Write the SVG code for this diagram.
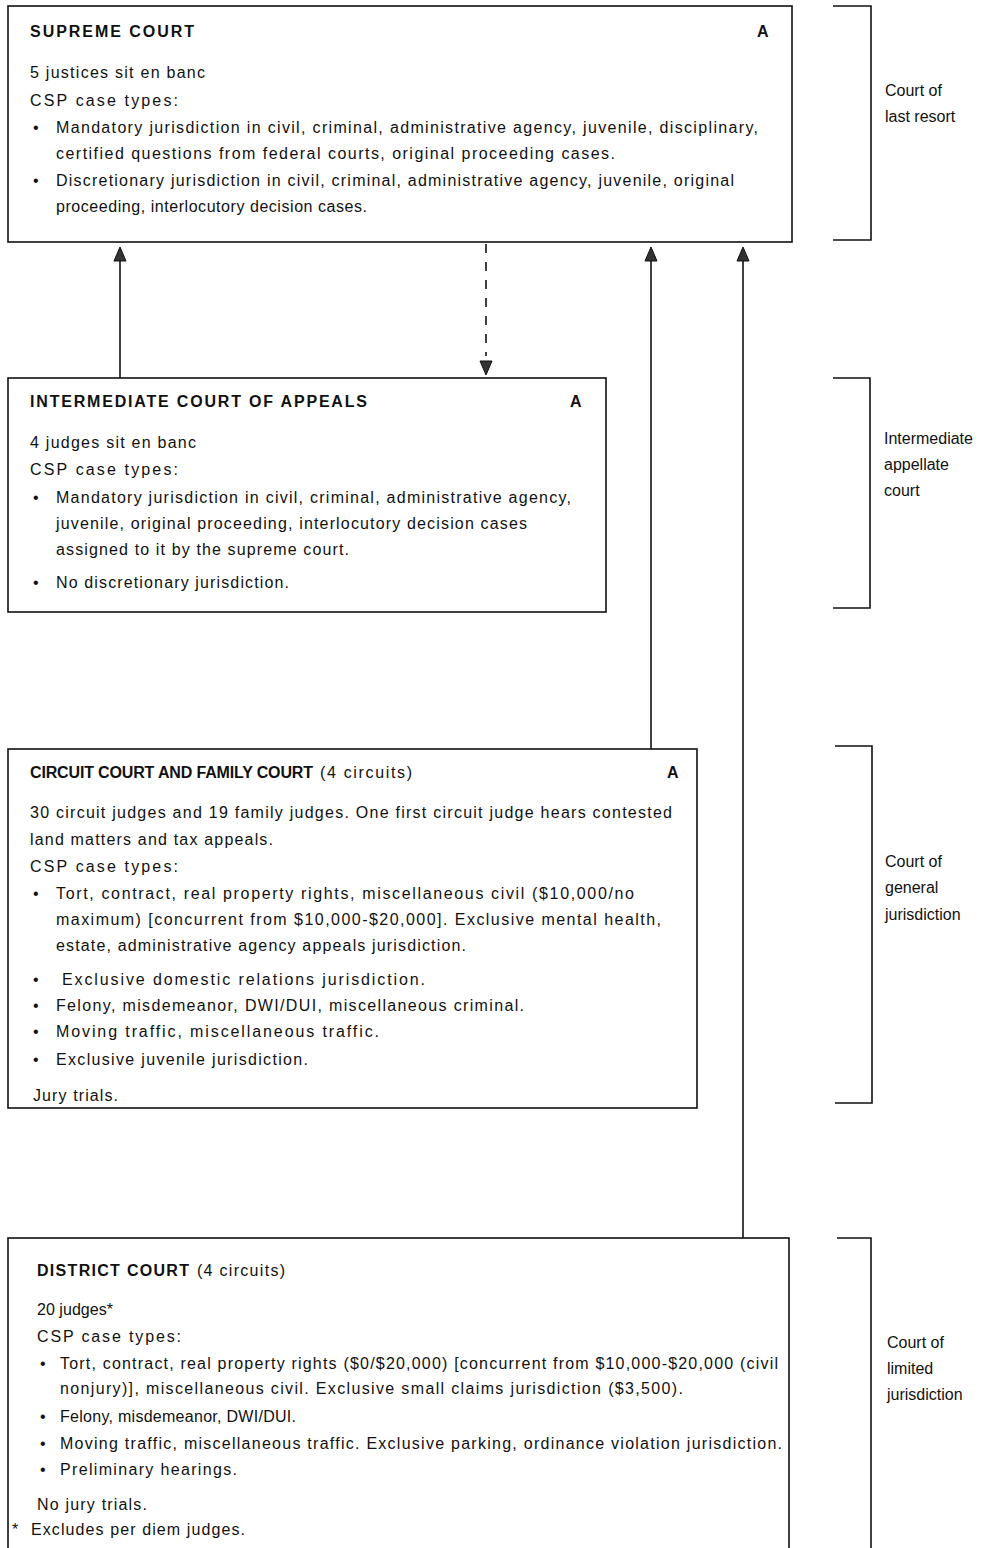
<svg xmlns="http://www.w3.org/2000/svg" width="986" height="1548" viewBox="0 0 986 1548">
<style>
.t{font-family:"Liberation Sans",Arial,Helvetica,sans-serif;font-size:16px;fill:#111}
.b{font-weight:bold}
.box{fill:#fff;stroke:#111;stroke-width:1.6}
.br{fill:none;stroke:#111;stroke-width:1.6}
.ln{stroke:#111;stroke-width:1.6;fill:none}
.dash{stroke:#111;stroke-width:1.6;stroke-dasharray:9,9;fill:none}
.ah{fill:#333;stroke:#111;stroke-width:1}
</style>
<rect width="986" height="1548" fill="#fff"/>

<g id="connectors">
  <line class="ln" x1="120" y1="378" x2="120" y2="260"/>
  <polygon class="ah" points="120,247 114,261 126,261"/>
  <line class="ln" x1="651" y1="749" x2="651" y2="260"/>
  <polygon class="ah" points="651,247 645,261 657,261"/>
  <line class="ln" x1="743" y1="1238" x2="743" y2="260"/>
  <polygon class="ah" points="743,247 737,261 749,261"/>
  <line class="dash" x1="486" y1="244" x2="486" y2="356"/>
  <polygon class="ah" points="486,375 480,361 492,361"/>
</g>

<g id="supreme-court">
  <rect class="box" x="8" y="6" width="784" height="236"/>
  <text class="t b" x="30" y="37" textLength="164" lengthAdjust="spacing">SUPREME COURT</text>
  <text class="t b" x="757" y="37">A</text>
  <text class="t" x="30" y="78" textLength="175" lengthAdjust="spacing">5 justices sit en banc</text>
  <text class="t" x="30" y="106" textLength="148" lengthAdjust="spacing">CSP case types:</text>
  <text class="t" x="33" y="133">•</text>
  <text class="t" x="56" y="133" textLength="702" lengthAdjust="spacing">Mandatory jurisdiction in civil, criminal, administrative agency, juvenile, disciplinary,</text>
  <text class="t" x="56" y="159" textLength="559" lengthAdjust="spacing">certified questions from federal courts, original proceeding cases.</text>
  <text class="t" x="33" y="186">•</text>
  <text class="t" x="56" y="186" textLength="678" lengthAdjust="spacing">Discretionary jurisdiction in civil, criminal, administrative agency, juvenile, original</text>
  <text class="t" x="56" y="212" textLength="311" lengthAdjust="spacing">proceeding, interlocutory decision cases.</text>
</g>

<g id="intermediate-court">
  <rect class="box" x="8" y="378" width="598" height="234"/>
  <text class="t b" x="30" y="407" textLength="337" lengthAdjust="spacing">INTERMEDIATE COURT OF APPEALS</text>
  <text class="t b" x="570" y="407">A</text>
  <text class="t" x="30" y="448" textLength="166" lengthAdjust="spacing">4 judges sit en banc</text>
  <text class="t" x="30" y="475" textLength="148" lengthAdjust="spacing">CSP case types:</text>
  <text class="t" x="33" y="503">•</text>
  <text class="t" x="56" y="503" textLength="515" lengthAdjust="spacing">Mandatory jurisdiction in civil, criminal, administrative agency,</text>
  <text class="t" x="56" y="529" textLength="471" lengthAdjust="spacing">juvenile, original proceeding, interlocutory decision cases</text>
  <text class="t" x="56" y="555" textLength="293" lengthAdjust="spacing">assigned to it by the supreme court.</text>
  <text class="t" x="33" y="588">•</text>
  <text class="t" x="56" y="588" textLength="233" lengthAdjust="spacing">No discretionary jurisdiction.</text>
</g>

<g id="circuit-court">
  <rect class="box" x="8" y="749" width="689" height="359"/>
  <text class="t b" x="30" y="778" textLength="283" lengthAdjust="spacing">CIRCUIT COURT AND FAMILY COURT</text>
  <text class="t" x="320" y="778" textLength="92" lengthAdjust="spacing">(4 circuits)</text>
  <text class="t b" x="667" y="778">A</text>
  <text class="t" x="30" y="818" textLength="642" lengthAdjust="spacing">30 circuit judges and 19 family judges.  One first circuit judge hears contested</text>
  <text class="t" x="30" y="845" textLength="243" lengthAdjust="spacing">land matters and tax appeals.</text>
  <text class="t" x="30" y="872" textLength="148" lengthAdjust="spacing">CSP case types:</text>
  <text class="t" x="33" y="899">•</text>
  <text class="t" x="56" y="899" textLength="578" lengthAdjust="spacing">Tort, contract, real property rights, miscellaneous civil ($10,000/no</text>
  <text class="t" x="56" y="925" textLength="605" lengthAdjust="spacing">maximum) [concurrent from $10,000-$20,000].  Exclusive mental health,</text>
  <text class="t" x="56" y="951" textLength="410" lengthAdjust="spacing">estate, administrative agency appeals jurisdiction.</text>
  <text class="t" x="33" y="985">•</text>
  <text class="t" x="62" y="985" textLength="363" lengthAdjust="spacing">Exclusive domestic relations jurisdiction.</text>
  <text class="t" x="33" y="1011">•</text>
  <text class="t" x="56" y="1011" textLength="468" lengthAdjust="spacing">Felony, misdemeanor, DWI/DUI, miscellaneous criminal.</text>
  <text class="t" x="33" y="1037">•</text>
  <text class="t" x="56" y="1037" textLength="323" lengthAdjust="spacing">Moving traffic, miscellaneous traffic.</text>
  <text class="t" x="33" y="1065">•</text>
  <text class="t" x="56" y="1065" textLength="252" lengthAdjust="spacing">Exclusive juvenile jurisdiction.</text>
  <text class="t" x="33" y="1101" textLength="85" lengthAdjust="spacing">Jury trials.</text>
</g>

<g id="district-court">
  <rect class="box" x="8" y="1238" width="781" height="330"/>
  <text class="t b" x="37" y="1276" textLength="152" lengthAdjust="spacing">DISTRICT COURT</text>
  <text class="t" x="197" y="1276" textLength="88" lengthAdjust="spacing">(4 circuits)</text>
  <text class="t" x="37" y="1315" textLength="76" lengthAdjust="spacing">20 judges*</text>
  <text class="t" x="37" y="1342" textLength="144" lengthAdjust="spacing">CSP case types:</text>
  <text class="t" x="40" y="1369">•</text>
  <text class="t" x="60" y="1369" textLength="718" lengthAdjust="spacing">Tort, contract, real property rights ($0/$20,000) [concurrent from $10,000-$20,000 (civil</text>
  <text class="t" x="60" y="1394" textLength="623" lengthAdjust="spacing">nonjury)], miscellaneous civil.  Exclusive small claims jurisdiction ($3,500).</text>
  <text class="t" x="40" y="1422">•</text>
  <text class="t" x="60" y="1422" textLength="236" lengthAdjust="spacing">Felony, misdemeanor, DWI/DUI.</text>
  <text class="t" x="40" y="1449">•</text>
  <text class="t" x="60" y="1449" textLength="722" lengthAdjust="spacing">Moving traffic, miscellaneous traffic.  Exclusive parking, ordinance violation jurisdiction.</text>
  <text class="t" x="40" y="1475">•</text>
  <text class="t" x="60" y="1475" textLength="177" lengthAdjust="spacing">Preliminary hearings.</text>
  <text class="t" x="37" y="1510" textLength="110" lengthAdjust="spacing">No jury trials.</text>
  <text class="t" x="12" y="1535">*</text>
  <text class="t" x="31" y="1535" textLength="214" lengthAdjust="spacing">Excludes per diem judges.</text>
</g>

<g id="level-last-resort">
  <polyline class="br" points="833,6 871,6 871,240 833,240"/>
  <text class="t" x="885" y="96">Court of</text>
  <text class="t" x="885" y="122">last resort</text>
</g>
<g id="level-intermediate">
  <polyline class="br" points="833,378 870,378 870,608 833,608"/>
  <text class="t" x="884" y="444">Intermediate</text>
  <text class="t" x="884" y="470">appellate</text>
  <text class="t" x="884" y="496">court</text>
</g>
<g id="level-general">
  <polyline class="br" points="835,746 872,746 872,1103 835,1103"/>
  <text class="t" x="885" y="867">Court of</text>
  <text class="t" x="885" y="893">general</text>
  <text class="t" x="885" y="920">jurisdiction</text>
</g>
<g id="level-limited">
  <polyline class="br" points="837,1238 871,1238 871,1560"/>
  <text class="t" x="887" y="1348">Court of</text>
  <text class="t" x="887" y="1374">limited</text>
  <text class="t" x="887" y="1400">jurisdiction</text>
</g>
</svg>
